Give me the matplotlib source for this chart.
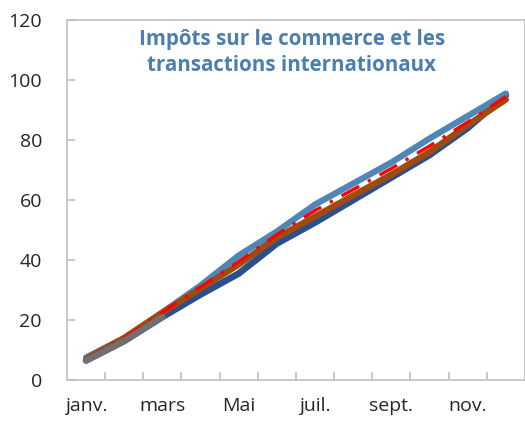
import numpy as np
import matplotlib.pyplot as plt

mois = ['janv.', 'févr.', 'mars', 'avr.', 'Mai', 'juin', 'juil.', 'août', 'sept.', 'oct.', 'nov.', 'déc.']
s_bleu_clair = [7.5, 14, 22.5, 31.5, 41.5, 49.5, 58.5, 65.5, 72.5, 80.5, 88, 95.5]
s_bleu_fonce = [6.5, 13, 21, 28.5, 35.5, 45.5, 52.5, 60, 67.5, 75, 84, 95]
s_orange = [7, 14, 22.5, 30.5, 38.5, 47.5, 54.5, 61.5, 68.5, 76, 85, 93.5]
s_rouge = [7, 14, 22.5, 31, 39.5, 48.5, 56.5, 63.5, 70.5, 78, 86, 94.5]
s_gris = [6.5, 13, 21]

x = np.arange(len(mois))

fig = plt.figure(figsize=(5.25, 4.23), dpi=100)
ax = fig.add_axes([0.1276, 0.1017, 0.8724, 0.851])

ax.plot(x, s_bleu_fonce, color='#2b4f8c', lw=4.8, solid_capstyle='round', zorder=2)
ax.plot(x, s_bleu_clair, color='#4f86b8', lw=4.5, solid_capstyle='round', zorder=3)
ax.plot(x, s_orange, color='#9e4a10', lw=4.5, solid_capstyle='round', zorder=4)
ax.plot(x, s_rouge, color='#ff0000', lw=2.4, ls=(0, (6, 3, 1, 3)), zorder=5)
ax.plot(x[:len(s_gris)], s_gris, color='#707070', lw=4.5, solid_capstyle='round', zorder=6)

ax.set_xlim(-0.5, 11.5)
ax.set_ylim(0, 120)
ax.set_yticks(range(0, 121, 20))
ax.set_xticks(x[::2])
ax.set_xticklabels(mois[::2])
ax.set_xticks(np.arange(0.5, 11, 1), minor=True)

for s in ax.spines.values():
    s.set_color('#c0c0c0')
    s.set_linewidth(1.2)

ax.tick_params(axis='x', which='major', length=0, labelsize=14, pad=12)
ax.tick_params(axis='x', which='minor', direction='in', length=6, color='#c0c0c0', width=1.2)
ax.tick_params(axis='y', direction='in', length=6, color='#c0c0c0', width=1.2, labelsize=14, pad=18)
for lab in ax.get_xticklabels() + ax.get_yticklabels():
    lab.set_family('Open Sans')
    lab.set_color('#262626')

ax.text(0.491, 0.975, 'Impôts sur le commerce et les\ntransactions internationaux',
        transform=ax.transAxes, ha='center', va='top', fontsize=14.8, fontweight='bold',
        color='#4a7fb0', family='Open Sans', linespacing=1.3)

fig.savefig('out.png', dpi=100)
